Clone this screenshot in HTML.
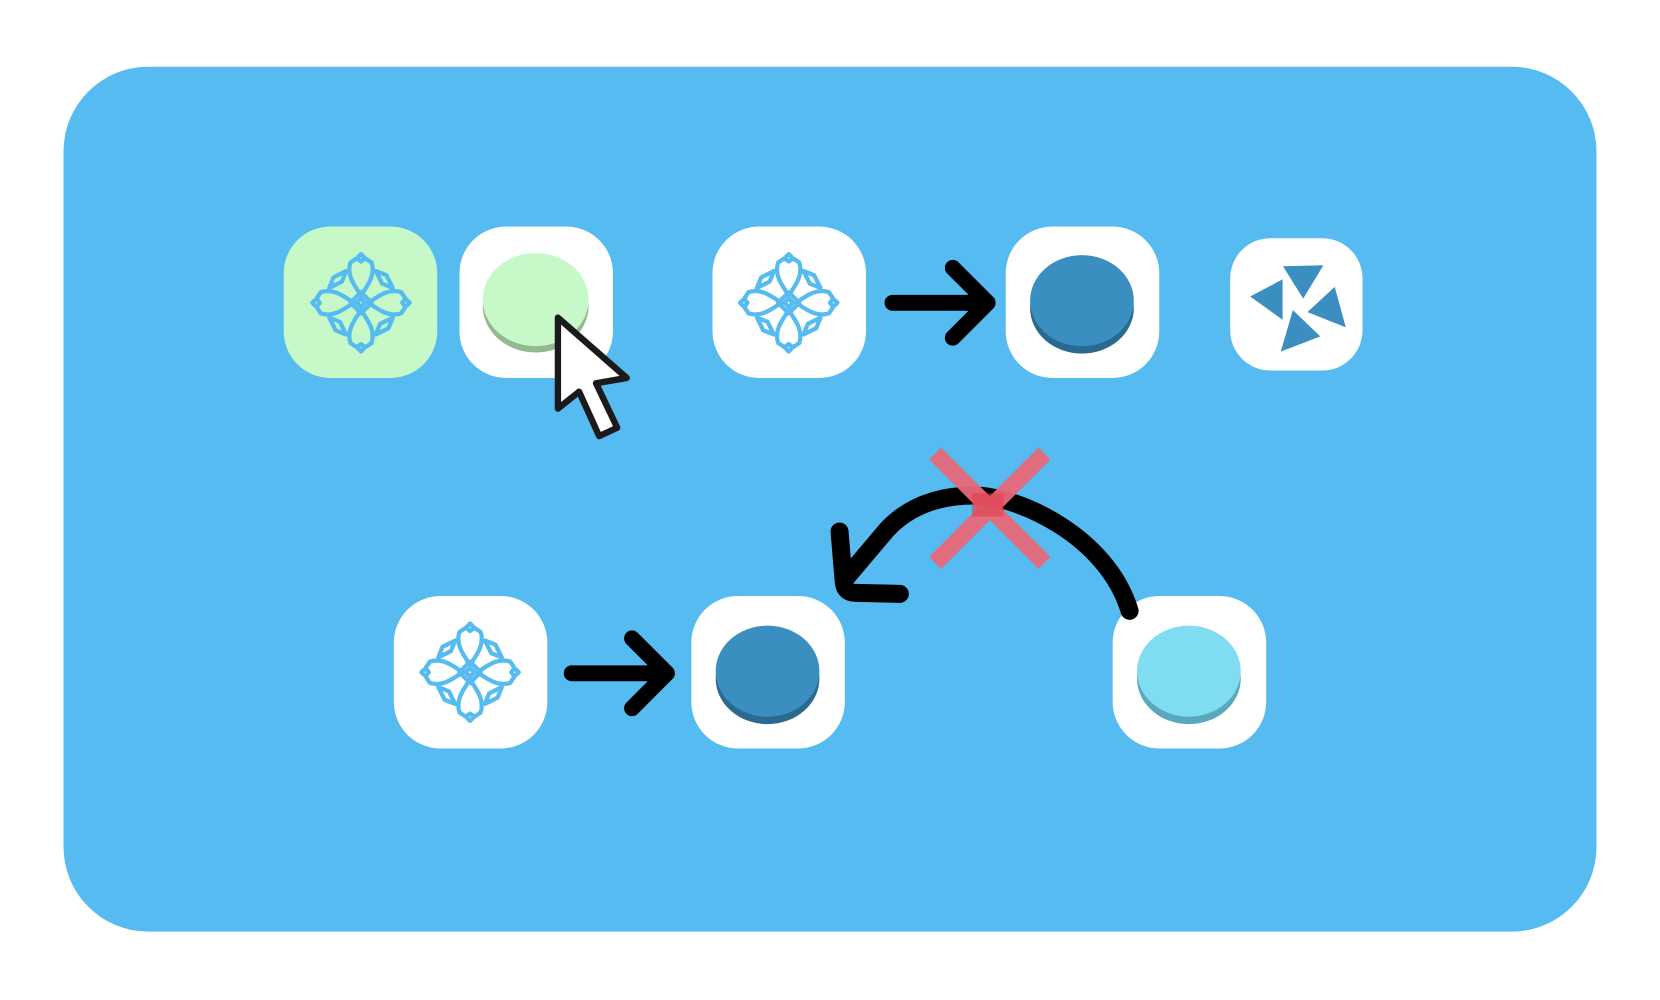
<!DOCTYPE html>
<html><head><meta charset="utf-8"><style>html,body{margin:0;padding:0;background:#fff;width:1660px;height:1000px;overflow:hidden}svg{display:block}</style></head>
<body>
<svg width="1660" height="1000" viewBox="0 0 1568 944.6" preserveAspectRatio="none" xmlns="http://www.w3.org/2000/svg">
<defs>
<g id="fl" fill="none" stroke="#55bbf0" stroke-width="4" stroke-linejoin="round">
  <g id="pt"><path d="M0,-7 C-6,-16 -14,-26 -10,-38 L-4,-42 L0,-39 L4,-42 L10,-38 C14,-26 6,-16 0,-7 Z"/><path d="M-3,-43 L0,-46 L3,-43"/></g>
  <use href="#pt" transform="rotate(90)"/><use href="#pt" transform="rotate(180)"/><use href="#pt" transform="rotate(270)"/>
  <g id="cn"><path d="M14,-30 L24,-26 L30,-14 L20,-18 Z"/></g>
  <use href="#cn" transform="rotate(90)"/><use href="#cn" transform="rotate(180)"/><use href="#cn" transform="rotate(270)"/>
  <path d="M0,-10 L10,0 L0,10 L-10,0 Z"/><path d="M0,-4 L4,0 L0,4 L-4,0 Z"/>
</g>
</defs>
<rect x="60" y="63" width="1448" height="817" rx="80" fill="#55bbf0"/>
<!-- top row -->
<rect x="268" y="214" width="145" height="143" rx="44" fill="#c6f8c8"/>
<use href="#fl" x="341" y="286"/>
<rect x="434" y="214" width="145" height="143" rx="44" fill="#fff"/>
<ellipse cx="506" cy="289" rx="50" ry="44" fill="#94b890"/>
<ellipse cx="506" cy="283" rx="50" ry="44" fill="#c6f8c8"/>
<rect x="673" y="214" width="145" height="143" rx="44" fill="#fff"/>
<use href="#fl" x="745" y="286"/>
<path d="M843,286 L933,286 M900,253 L933,286 L900,319" fill="none" stroke="#000" stroke-width="15" stroke-linecap="round" stroke-linejoin="round"/>
<rect x="950" y="214" width="145" height="143" rx="44" fill="#fff"/>
<ellipse cx="1022" cy="291" rx="49" ry="43" fill="#2a6a90"/>
<ellipse cx="1022" cy="284" rx="49" ry="43" fill="#3a8fc0"/>
<rect x="1162" y="225" width="125" height="125" rx="38" fill="#fff"/>
<g fill="#3a8fc0" stroke="#fff" stroke-width="1">
<path d="M1211,251 L1251,250 L1231,283 Z"/>
<path d="M1212,263 L1212,303 L1180,280 Z"/>
<path d="M1261,270 L1272,310 L1234,295 Z"/>
<path d="M1221,292 L1248,318 L1209,333 Z"/>
</g>
<!-- cursor -->
<path d="M527,300 L592,357 L563,362 L583,404 L566,412 L547,370 L527,386 Z" fill="#fff" stroke="#1a1a1a" stroke-width="6" stroke-linejoin="round"/>
<!-- bottom row -->
<rect x="372" y="563" width="145" height="144" rx="44" fill="#fff"/>
<use href="#fl" x="444" y="635"/>
<path d="M540,636 L630,636 M597,603 L630,636 L597,669" fill="none" stroke="#000" stroke-width="15" stroke-linecap="round" stroke-linejoin="round"/>
<rect x="653" y="563" width="145" height="144" rx="44" fill="#fff"/>
<ellipse cx="725" cy="641" rx="49" ry="43" fill="#2a6a90"/>
<ellipse cx="725" cy="634" rx="49" ry="43" fill="#3a8fc0"/>
<rect x="1051" y="563" width="145" height="144" rx="44" fill="#fff"/>
<ellipse cx="1123" cy="641" rx="49" ry="43" fill="#5aa8bc"/>
<ellipse cx="1123" cy="634" rx="49" ry="43" fill="#80dcf0"/>
<!-- curved arrow -->
<path d="M1067,577 C1045,505 960,468 920,468 C880,468 855,482 838,500 L800,545" fill="none" stroke="#000" stroke-width="17" stroke-linecap="round" stroke-linejoin="round"/>
<path d="M793,502 L797,550 Q798,560 808,560 L850,561" fill="none" stroke="#000" stroke-width="17" stroke-linecap="round" stroke-linejoin="round"/>
<!-- red X -->
<g stroke="#e8687a" stroke-width="16" stroke-linecap="square" opacity="0.95">
<path d="M889,434 L981,526 M981,434 L889,526"/>
</g>
<rect x="918" y="466" width="30" height="22" fill="#e04048" opacity="0.6"/>
</svg>
</body></html>
